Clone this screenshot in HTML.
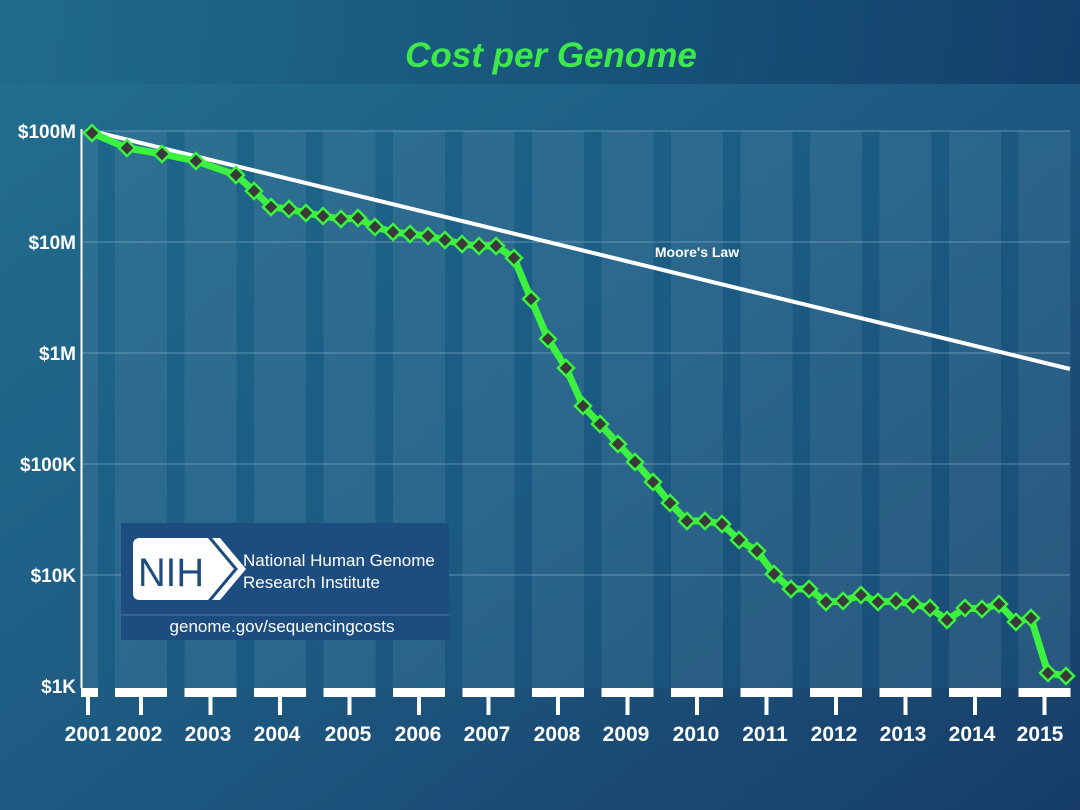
<!DOCTYPE html>
<html><head><meta charset="utf-8"><style>
html,body{margin:0;padding:0;width:1080px;height:810px;overflow:hidden}
svg{display:block}
</style></head><body>
<svg width="1080" height="810" viewBox="0 0 1080 810" xmlns="http://www.w3.org/2000/svg" xmlns:xlink="http://www.w3.org/1999/xlink" font-family="Liberation Sans, Arial, sans-serif">
<defs>
<linearGradient id="bg" x1="0" y1="0" x2="1" y2="1">
<stop offset="0" stop-color="#22708f"/>
<stop offset="0.5" stop-color="#1d5a82"/>
<stop offset="1" stop-color="#173d68"/>
</linearGradient>
<linearGradient id="top" x1="0" y1="0" x2="1" y2="0">
<stop offset="0" stop-color="#1f6a8b"/>
<stop offset="1" stop-color="#0f3a66"/>
</linearGradient>
<path id="d" d="M0 -8 L8 0 L0 8 L-8 0 Z" fill="#3a3a3a" stroke="#3df23f" stroke-width="2.5"/>
</defs>
<rect width="1080" height="810" fill="url(#bg)"/>
<rect width="1080" height="84" fill="url(#top)" opacity="0.8"/>
<text x="551" y="67" text-anchor="middle" font-size="35" font-weight="bold" font-style="italic" fill="#3de84a">Cost per Genome</text>
<rect x="81" y="131" width="989" height="557" fill="#1a5f86" opacity="0.35"/>
<g fill="#ffffff" opacity="0.07">
<rect x="81" y="131" width="17" height="557"/>
<rect x="115" y="131" width="52" height="557"/><rect x="184.5" y="131" width="52" height="557"/><rect x="254" y="131" width="52" height="557"/><rect x="323.5" y="131" width="52" height="557"/><rect x="393" y="131" width="52" height="557"/><rect x="462.5" y="131" width="52" height="557"/><rect x="532" y="131" width="52" height="557"/><rect x="601.5" y="131" width="52" height="557"/><rect x="671" y="131" width="52" height="557"/><rect x="740.5" y="131" width="52" height="557"/><rect x="810" y="131" width="52" height="557"/><rect x="879.5" y="131" width="52" height="557"/><rect x="949" y="131" width="52" height="557"/><rect x="1018.5" y="131" width="52" height="557"/>
</g>
<g stroke="#9fc3d8" stroke-width="1" opacity="0.5">
<line x1="81" y1="131" x2="1070" y2="131"/><line x1="81" y1="242" x2="1070" y2="242"/><line x1="81" y1="353" x2="1070" y2="353"/><line x1="81" y1="464" x2="1070" y2="464"/><line x1="81" y1="575" x2="1070" y2="575"/>
</g>
<line x1="81.5" y1="129" x2="81.5" y2="688" stroke="#fff" stroke-width="2"/>
<g fill="#fff">
<rect x="81" y="688" width="17" height="9"/>
<rect x="115" y="688" width="52" height="9"/><rect x="184.5" y="688" width="52" height="9"/><rect x="254" y="688" width="52" height="9"/><rect x="323.5" y="688" width="52" height="9"/><rect x="393" y="688" width="52" height="9"/><rect x="462.5" y="688" width="52" height="9"/><rect x="532" y="688" width="52" height="9"/><rect x="601.5" y="688" width="52" height="9"/><rect x="671" y="688" width="52" height="9"/><rect x="740.5" y="688" width="52" height="9"/><rect x="810" y="688" width="52" height="9"/><rect x="879.5" y="688" width="52" height="9"/><rect x="949" y="688" width="52" height="9"/><rect x="1018.5" y="688" width="52" height="9"/>
</g>
<g stroke="#fff" stroke-width="4">
<line x1="88" y1="697" x2="88" y2="715"/><line x1="141" y1="697" x2="141" y2="715"/><line x1="210.5" y1="697" x2="210.5" y2="715"/><line x1="280" y1="697" x2="280" y2="715"/><line x1="349.5" y1="697" x2="349.5" y2="715"/><line x1="419" y1="697" x2="419" y2="715"/><line x1="488.5" y1="697" x2="488.5" y2="715"/><line x1="558" y1="697" x2="558" y2="715"/><line x1="627.5" y1="697" x2="627.5" y2="715"/><line x1="697" y1="697" x2="697" y2="715"/><line x1="766.5" y1="697" x2="766.5" y2="715"/><line x1="836" y1="697" x2="836" y2="715"/><line x1="905.5" y1="697" x2="905.5" y2="715"/><line x1="975" y1="697" x2="975" y2="715"/><line x1="1044.5" y1="697" x2="1044.5" y2="715"/>
</g>
<g fill="#fff" font-size="21" font-weight="bold" text-anchor="middle">
<text x="88" y="741">2001</text><text x="139" y="741">2002</text><text x="208" y="741">2003</text><text x="277" y="741">2004</text><text x="348" y="741">2005</text><text x="418" y="741">2006</text><text x="487" y="741">2007</text><text x="557" y="741">2008</text><text x="626" y="741">2009</text><text x="696" y="741">2010</text><text x="765" y="741">2011</text><text x="834" y="741">2012</text><text x="903" y="741">2013</text><text x="972" y="741">2014</text><text x="1040" y="741">2015</text>
</g>
<g fill="#fff" font-size="19" font-weight="bold" text-anchor="end">
<text x="76" y="138">$100M</text><text x="76" y="249">$10M</text><text x="76" y="360">$1M</text><text x="76" y="471">$100K</text><text x="76" y="582">$10K</text><text x="76" y="693">$1K</text>
</g>
<line x1="92" y1="131" x2="1070" y2="369" stroke="#fff" stroke-width="4"/>
<text x="697" y="257" fill="#fff" font-size="14" font-weight="bold" text-anchor="middle">Moore's Law</text>
<rect x="121" y="523" width="328" height="117" fill="#1d4c7e"/>
<line x1="121" y1="615" x2="449" y2="615" stroke="#4f7aa3" stroke-width="1"/>
<path d="M140 538 H208 L234 569 L208 600 H140 Q133 600 133 593 V545 Q133 538 140 538 Z" fill="#fff"/>
<path d="M212 538 H220 L246 569 L220 600 H212 L238 569 Z" fill="#fff"/>
<text x="138" y="586" font-size="40" fill="#1d4c7e" textLength="66" lengthAdjust="spacingAndGlyphs">NIH</text>
<text x="243" y="566" font-size="17" fill="#fff">National Human Genome</text>
<text x="243" y="588" font-size="17" fill="#fff">Research Institute</text>
<text x="282" y="632" font-size="17" fill="#fff" text-anchor="middle">genome.gov/sequencingcosts</text>
<polyline fill="none" stroke="#3df23f" stroke-width="7" stroke-linejoin="round" points="92,133 127,148 162,154 196,161 236,175 254,191 271,207 289,209 306,213 323,216 341,219 358,218 375,227 393,232 410,234 428,236 445,240 462,244 479,246 496,246 514,258 531,299 548,339 566,368 583,406 600,424 618,444 635,462 653,482 670,503 687,521 705,521 722,524 739,540 757,551 774,574 791,589 809,589 826,602 843,601 861,595 878,602 896,601 913,604 930,608 947,620 965,608 982,609 999,604 1016,622 1031,618 1048,673 1066,676"/>
<g>
<use xlink:href="#d" x="92" y="133"/><use xlink:href="#d" x="127" y="148"/><use xlink:href="#d" x="162" y="154"/><use xlink:href="#d" x="196" y="161"/><use xlink:href="#d" x="236" y="175"/><use xlink:href="#d" x="254" y="191"/><use xlink:href="#d" x="271" y="207"/><use xlink:href="#d" x="289" y="209"/><use xlink:href="#d" x="306" y="213"/><use xlink:href="#d" x="323" y="216"/><use xlink:href="#d" x="341" y="219"/><use xlink:href="#d" x="358" y="218"/><use xlink:href="#d" x="375" y="227"/><use xlink:href="#d" x="393" y="232"/><use xlink:href="#d" x="410" y="234"/><use xlink:href="#d" x="428" y="236"/><use xlink:href="#d" x="445" y="240"/><use xlink:href="#d" x="462" y="244"/><use xlink:href="#d" x="479" y="246"/><use xlink:href="#d" x="496" y="246"/><use xlink:href="#d" x="514" y="258"/><use xlink:href="#d" x="531" y="299"/><use xlink:href="#d" x="548" y="339"/><use xlink:href="#d" x="566" y="368"/><use xlink:href="#d" x="583" y="406"/><use xlink:href="#d" x="600" y="424"/><use xlink:href="#d" x="618" y="444"/><use xlink:href="#d" x="635" y="462"/><use xlink:href="#d" x="653" y="482"/><use xlink:href="#d" x="670" y="503"/><use xlink:href="#d" x="687" y="521"/><use xlink:href="#d" x="705" y="521"/><use xlink:href="#d" x="722" y="524"/><use xlink:href="#d" x="739" y="540"/><use xlink:href="#d" x="757" y="551"/><use xlink:href="#d" x="774" y="574"/><use xlink:href="#d" x="791" y="589"/><use xlink:href="#d" x="809" y="589"/><use xlink:href="#d" x="826" y="602"/><use xlink:href="#d" x="843" y="601"/><use xlink:href="#d" x="861" y="595"/><use xlink:href="#d" x="878" y="602"/><use xlink:href="#d" x="896" y="601"/><use xlink:href="#d" x="913" y="604"/><use xlink:href="#d" x="930" y="608"/><use xlink:href="#d" x="947" y="620"/><use xlink:href="#d" x="965" y="608"/><use xlink:href="#d" x="982" y="609"/><use xlink:href="#d" x="999" y="604"/><use xlink:href="#d" x="1016" y="622"/><use xlink:href="#d" x="1031" y="618"/><use xlink:href="#d" x="1048" y="673"/><use xlink:href="#d" x="1066" y="676"/>
</g>
</svg>
</body></html>
